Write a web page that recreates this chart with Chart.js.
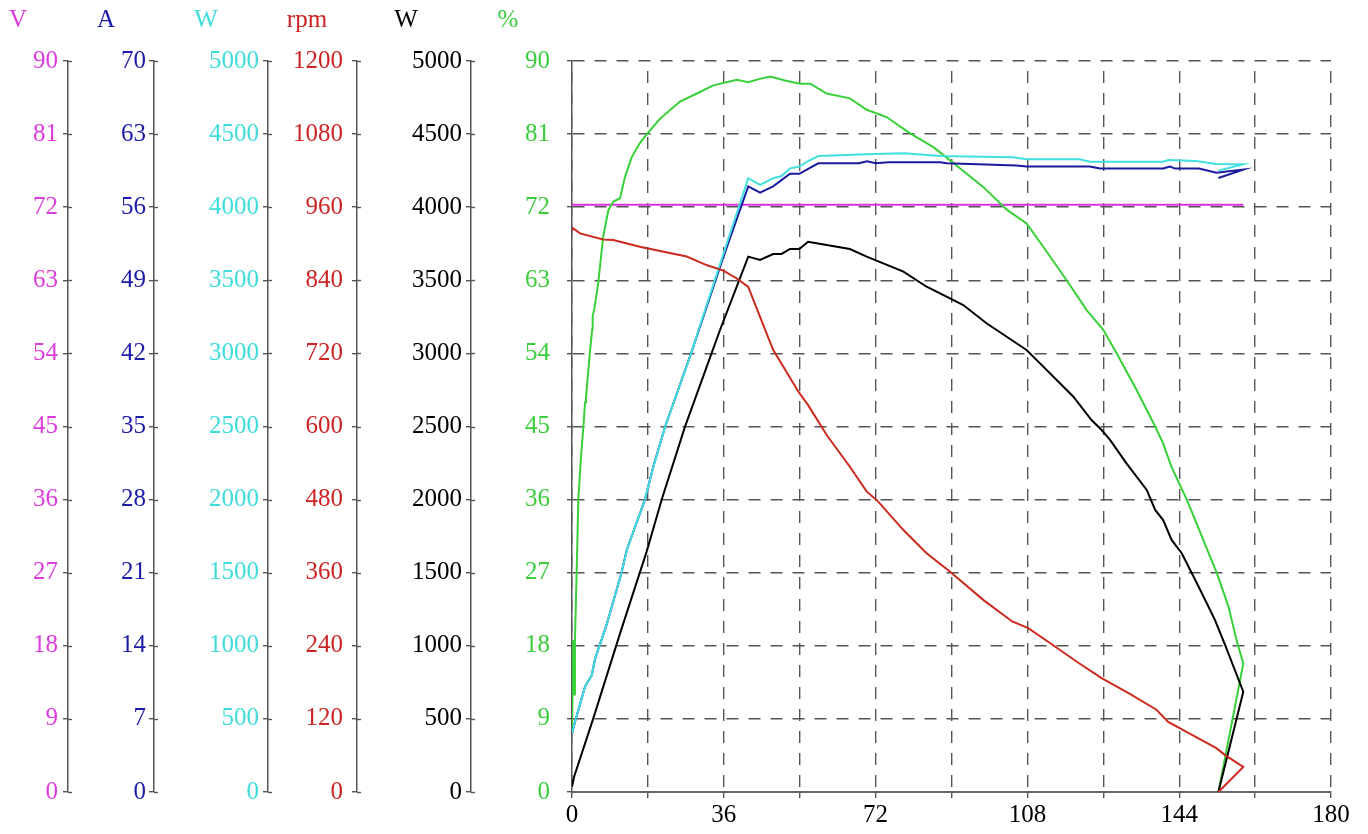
<!DOCTYPE html>
<html>
<head>
<meta charset="utf-8">
<title>Motor curve</title>
<script src="https://cdn.jsdelivr.net/npm/chart.js@4/dist/chart.umd.min.js"></script>
<style>
  body { margin: 0; background: #fff; overflow: hidden; }
</style>
</head>
<body>
<canvas id="canvas" width="1368" height="834"></canvas>
<script>
// x = load (0..180), every curve has its own x samples
var voltX = [0, 159.2]
var voltY = [72.3, 72.3]

var ampX = [0, 0.7, 3.1, 4.7, 5.5, 8.2, 11.8, 13.0, 17.3, 19.3, 22.1, 25.6, 28.4, 35.7, 41.8, 44.6, 47.7, 51.7, 53.9, 58.4, 68.0, 70.0, 72.0, 75.0, 87.3, 88.9, 105.4, 107.8, 122.8, 125.2, 140.2, 141.8, 143.0, 148.7, 152.8, 159.2, 153.3]
var ampY = [5.6, 6.7, 10.1, 11.2, 12.8, 16.0, 21.1, 23.2, 28.0, 31.2, 35.0, 39.0, 42.2, 51.0, 58.0, 57.4, 58.0, 59.2, 59.2, 60.2, 60.2, 60.4, 60.2, 60.3, 60.3, 60.2, 60.0, 59.9, 59.9, 59.7, 59.7, 59.9, 59.7, 59.7, 59.3, 59.6, 58.8]

var inX = [0, 0.7, 3.1, 4.7, 5.5, 8.2, 11.8, 13.0, 17.3, 19.3, 22.1, 25.6, 28.4, 30.0, 35.7, 41.8, 44.6, 47.7, 49.7, 51.7, 53.9, 56.0, 58.4, 71.6, 78.7, 87.3, 104.6, 107.8, 120.4, 122.8, 140.2, 141.4, 148.0, 152.8, 159.2, 153.3]
var inY = [402, 481, 720, 800, 914, 1142, 1507, 1655, 2002, 2225, 2499, 2784, 3012, 3160, 3662, 4198, 4152, 4198, 4213, 4266, 4278, 4316, 4350, 4364, 4369, 4350, 4341, 4328, 4328, 4311, 4311, 4323, 4316, 4296, 4294, 4250]

var rpmX = [0, 0.3, 1.9, 7.4, 9.8, 16.1, 20.9, 27.2, 31.9, 35.9, 39.1, 41.8, 44.6, 47.7, 53.7, 56.0, 60.4, 65.9, 69.9, 72.3, 78.6, 84.1, 89.6, 97.6, 104.4, 108.2, 113.7, 119.9, 125.6, 132.3, 138.6, 141.4, 146.5, 152.8, 154.8, 159.2, 153.3]
var rpmY = [922, 925, 917, 907, 906, 895, 888, 879, 865, 856, 843, 829, 780, 726, 657, 635, 586, 534, 493, 479, 430, 392, 362, 315, 280, 269, 243, 213, 187, 161, 135, 115, 96, 72, 61, 41, 0]

var outX = [0, 0.5, 5.05, 11.4, 17.7, 21.3, 26.8, 31.1, 35.1, 41.8, 44.6, 47.7, 49.7, 51.7, 53.9, 56.0, 60.4, 65.9, 69.9, 78.6, 84.1, 92.8, 98.3, 103.1, 107.8, 111.0, 118.9, 123.2, 125.6, 127.6, 131.5, 136.3, 138.3, 140.2, 142.2, 144.6, 148.2, 152.5, 154.9, 159.2, 153.3]
var outY = [36, 105, 504, 1085, 1644, 2002, 2499, 2841, 3160, 3662, 3639, 3680, 3680, 3714, 3714, 3764, 3742, 3714, 3662, 3559, 3456, 3331, 3206, 3114, 3023, 2932, 2704, 2544, 2476, 2408, 2248, 2066, 1929, 1860, 1724, 1633, 1428, 1176, 1005, 686, 0]

var effX = [0, 0.3, 0.5, 0.7, 1.1, 1.5, 2.1, 2.7, 3.1, 3.3, 3.8, 4.3, 4.8, 4.9, 5.3, 6.2, 7.4, 8.6, 9.8, 11.4, 12.6, 14.2, 16.1, 17.9, 20.9, 25.6, 29.6, 33.5, 39.1, 41.8, 44.5, 47.0, 50.5, 54.1, 56.5, 60.4, 65.9, 69.9, 74.6, 80.2, 85.7, 89.6, 92.0, 97.5, 103.1, 107.8, 111.8, 117.3, 122.1, 126.0, 129.2, 133.9, 138.3, 140.2, 142.2, 145.8, 147.0, 151.3, 152.9, 155.7, 157.6, 159.2, 153.3]
var effY = [7.6, 18.7, 12, 18.7, 27, 36, 41, 45, 48, 48.5, 51.5, 54.4, 57, 58.6, 59.5, 62.6, 68.4, 71.6, 72.7, 73.1, 75.8, 78.2, 79.9, 81.1, 82.9, 85.0, 86.0, 87.0, 87.7, 87.4, 87.8, 88.1, 87.6, 87.2, 87.2, 86.0, 85.4, 84.0, 83.1, 81.1, 79.4, 77.8, 76.8, 74.5, 71.7, 70.0, 67.1, 63.0, 59.3, 56.9, 54.0, 49.5, 45.0, 42.9, 40.0, 36.0, 34.5, 29.0, 27.0, 22.8, 18.7, 15.8, 0]

var xTicks = [0, 36, 72, 108, 144, 180]

function pts(xs, ys) {
    return xs.map(function(x, i) { return {x: x, y: ys[i]} })
}

var serif = 'Liberation Serif'
var fontSize = 25

// one left axis per unit, outer to inner
var axes = [
    {id: 'yV', title: 'V', max: 90, color: '#dc3cdc', width: 68, pad: 5, dx: -50},
    {id: 'yA', title: 'A', max: 70, color: '#1c1ca8', width: 86, pad: 3, dx: -48},
    {id: 'yW', title: 'W', max: 5000, color: '#3fdcdc', width: 114, pad: 4, dx: -62},
    {id: 'yR', title: 'rpm', max: 1200, color: '#cc2424', width: 89, pad: 9, dx: -50},
    {id: 'yP', title: 'W', max: 5000, color: '#000000', width: 114, pad: 4, dx: -65},
    {id: 'yE', title: '%', max: 90, color: '#3ccc3c', width: 101, pad: 17, dx: -64}
]

var scales = {
    x: {
        type: 'linear',
        min: 0,
        max: 180,
        ticks: {
            stepSize: 18,
            autoSkip: false,
            maxRotation: 0,
            padding: 2,
            color: '#000',
            font: {family: serif, size: fontSize},
            callback: function(v) { return xTicks.indexOf(v) >= 0 ? String(v) : '' }
        },
        grid: {color: '#555', lineWidth: 1.4, tickLength: 6, tickColor: '#555'},
        border: {display: true, color: '#666', width: 2, dash: [12, 10], dashOffset: 12},
        afterFit: function(s) {
            s.height = 42
            s.paddingLeft = 0
            s.paddingRight = 0
        }
    }
}

axes.forEach(function(a, i) {
    var isEff = a.id == 'yE'
    scales[a.id] = {
        type: 'linear',
        position: 'left',
        weight: axes.length - i,
        min: 0,
        max: a.max,
        ticks: {
            stepSize: a.max / 10,
            color: a.color,
            padding: a.pad,
            font: {family: serif, size: fontSize},
            callback: function(v) { return String(v) }
        },
        grid: {
            drawOnChartArea: isEff,
            color: '#555',
            lineWidth: 1.4,
            tickLength: 5,
            tickColor: '#555'
        },
        border: {display: true, color: '#555', width: 1.5, dash: isEff ? [12, 10] : []},
        afterFit: function(s) {
            s.width = a.width
            s.paddingTop = 0
            s.paddingBottom = 0
        }
    }
})

// unit titles above the axes + small inner half of the tick marks
var axisDecor = {
    id: 'axisDecor',
    afterDraw: function(chart) {
        var ctx = chart.ctx
        ctx.save()
        ctx.font = fontSize + 'px "' + serif + '"'
        ctx.textAlign = 'center'
        ctx.textBaseline = 'middle'
        axes.forEach(function(a) {
            var s = chart.scales[a.id]
            ctx.fillStyle = a.color
            ctx.fillText(a.title, s.right + a.dx, 20)
            if (a.id == 'yE') return
            ctx.strokeStyle = '#555'
            ctx.lineWidth = 1.4
            s.ticks.forEach(function(t) {
                var y = Math.round(s.getPixelForValue(t.value)) + 0.5
                ctx.beginPath()
                ctx.moveTo(s.right, y)
                ctx.lineTo(s.right + 4, y)
                ctx.stroke()
            })
        })
        ctx.restore()
    }
}

function line(data, axis, color) {
    return {
        data: data,
        yAxisID: axis,
        borderColor: color,
        borderWidth: 2,
        pointRadius: 0,
        tension: 0,
        fill: false
    }
}

let ctx = document.getElementById('canvas').getContext('2d')

let motorChart = new Chart(ctx, {
    type: 'line',
    data: {
        datasets: [
            line(pts(rpmX, rpmY), 'yR', '#cc2a1e'),
            line(pts(outX, outY), 'yP', '#000000'),
            line(pts(inX, inY), 'yW', '#40e0e0'),
            line(pts(ampX, ampY), 'yA', '#1a1a9c'),
            line(pts(effX, effY), 'yE', '#38d038'),
            line(pts(voltX, voltY), 'yV', '#dd30dd')
        ]
    },
    options: {
        responsive: false,
        animation: false,
        devicePixelRatio: 1,
        layout: {padding: {top: 61, right: 37, bottom: 0, left: 0}},
        plugins: {legend: {display: false}, tooltip: {enabled: false}},
        scales: scales
    },
    plugins: [axisDecor]
})
</script>
</body>
</html>
